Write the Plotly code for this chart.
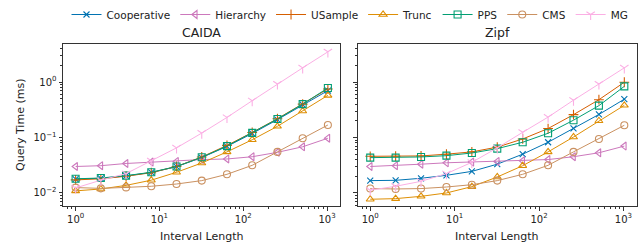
import plotly.graph_objects as go

interval = [1, 2, 4, 8, 16, 32, 64, 128, 256, 512, 1024]
series_names = ["Cooperative", "Hierarchy", "USample", "Trunc", "PPS", "CMS", "MG"]

caida_cooperative = [0.0178, 0.0184, 0.0203, 0.0234, 0.0298, 0.0435, 0.069, 0.118, 0.21, 0.39, 0.70]
caida_hierarchy = [0.030, 0.031, 0.034, 0.036, 0.037, 0.040, 0.041, 0.045, 0.054, 0.068, 0.097]
caida_usample = [0.0172, 0.0180, 0.0200, 0.0232, 0.0300, 0.0445, 0.072, 0.123, 0.218, 0.40, 0.75]
caida_trunc = [0.0109, 0.0118, 0.0137, 0.0170, 0.0236, 0.0347, 0.055, 0.091, 0.159, 0.30, 0.575]
caida_pps = [0.0180, 0.0186, 0.0205, 0.0236, 0.0300, 0.0440, 0.070, 0.121, 0.215, 0.40, 0.78]
caida_cms = [0.0125, 0.0121, 0.0126, 0.0132, 0.0145, 0.0167, 0.0217, 0.0315, 0.055, 0.097, 0.168]
caida_mg = [0.0123, 0.017, 0.0223, 0.038, 0.065, 0.12, 0.23, 0.46, 0.92, 1.8, 3.5]

zipf_cooperative = [0.0167, 0.0169, 0.0184, 0.0208, 0.0245, 0.033, 0.050, 0.082, 0.146, 0.26, 0.49]
zipf_hierarchy = [0.030, 0.031, 0.033, 0.035, 0.036, 0.037, 0.038, 0.040, 0.045, 0.053, 0.070]
zipf_usample = [0.0458, 0.046, 0.0465, 0.050, 0.055, 0.067, 0.094, 0.145, 0.258, 0.48, 0.99]
zipf_trunc = [0.0077, 0.0079, 0.0087, 0.010, 0.013, 0.0194, 0.031, 0.055, 0.102, 0.20, 0.38]
zipf_pps = [0.0433, 0.0433, 0.0446, 0.047, 0.0525, 0.063, 0.082, 0.119, 0.205, 0.375, 0.835]
zipf_cms = [0.012, 0.0118, 0.012, 0.0128, 0.0141, 0.0167, 0.0217, 0.0315, 0.055, 0.094, 0.166]
zipf_mg = [0.0112, 0.0132, 0.0162, 0.0223, 0.0357, 0.065, 0.124, 0.233, 0.47, 0.92, 1.8]

x_tickvals = [1, 10, 100, 1000]
x_ticktext = ["10<sup>0</sup>", "10<sup>1</sup>", "10<sup>2</sup>", "10<sup>3</sup>"]
y_tickvals = [0.01, 0.1, 1]
y_ticktext = ["10<sup>\u22122</sup>", "10<sup>\u22121</sup>", "10<sup>0</sup>"]

caida = [caida_cooperative, caida_hierarchy, caida_usample, caida_trunc, caida_pps, caida_cms, caida_mg]
zipf = [zipf_cooperative, zipf_hierarchy, zipf_usample, zipf_trunc, zipf_pps, zipf_cms, zipf_mg]

colors = ["#0173b2", "#cc78bc", "#d55e00", "#de8f05", "#029e73", "#ca9161", "#fbafe4"]
symbols = ["x-thin", "triangle-left-open", "cross-thin", "triangle-up-open", "square-open", "circle-open", "y-down"]
sizes = [6, 7, 7, 7, 7, 7, 7]

fig = go.Figure()
for panel, data in enumerate([caida, zipf]):
    xa = "x" if panel == 0 else "x2"
    for i, name in enumerate(series_names):
        fig.add_trace(go.Scatter(
            x=interval, y=data[i], name=name, mode="lines+markers",
            xaxis=xa, yaxis="y" if panel == 0 else "y2",
            legendgroup=name, showlegend=(panel == 0),
            line=dict(color=colors[i], width=1),
            marker=dict(symbol=symbols[i], size=sizes[i], color=colors[i],
                        line=dict(color=colors[i], width=1.1)),
        ))

tickfont = dict(family="DejaVu Sans", size=10, color="#222222")
axis_common = dict(
    type="log", showgrid=False, zeroline=False, showline=True, mirror=True,
    linecolor="#333333", linewidth=1, ticks="outside", ticklen=3.5, tickcolor="#333333",
    tickfont=tickfont,
    minor=dict(ticks="outside", ticklen=2, tickcolor="#333333", dtick="D1", showgrid=False),
)
xr = [-0.1505, 3.1605]
yr = [-2.235, 0.685]
label_font = dict(family="DejaVu Sans", size=11, color="#222222")
fig.update_layout(
    width=642, height=246,
    margin=dict(l=63, r=5, t=44, b=40),
    paper_bgcolor="white", plot_bgcolor="white",
    font=dict(family="DejaVu Sans", size=10, color="#222222"),
    showlegend=True,
    legend=dict(orientation="h", x=0.5, xanchor="center", y=1.0, yref="container",
                yanchor="top", font=dict(size=10.5), itemwidth=30, tracegroupgap=0,
                bgcolor="rgba(0,0,0,0)"),
    xaxis=dict(axis_common, domain=[0, 0.4834], range=xr, anchor="y",
               tickvals=x_tickvals, ticktext=x_ticktext),
    xaxis2=dict(axis_common, domain=[0.5131, 1], range=xr, anchor="y2",
                tickvals=x_tickvals, ticktext=x_ticktext),
    yaxis=dict(axis_common, range=yr, anchor="x",
               tickvals=y_tickvals, ticktext=y_ticktext),
    yaxis2=dict(axis_common, range=yr, anchor="x2", showticklabels=False,
                tickvals=y_tickvals),
    annotations=[
        dict(text="CAIDA", x=0.2417, y=1.0, xref="paper", yref="paper", showarrow=False,
             xanchor="center", yanchor="bottom", yshift=2, font=dict(size=12.5, color="#222222")),
        dict(text="Zipf", x=0.7565, y=1.0, xref="paper", yref="paper", showarrow=False,
             xanchor="center", yanchor="bottom", yshift=2, font=dict(size=12.5, color="#222222")),
        dict(text="Interval Length", x=0.2417, y=0, xref="paper", yref="paper", showarrow=False,
             xanchor="center", yanchor="middle", yshift=-30, font=label_font),
        dict(text="Interval Length", x=0.7565, y=0, xref="paper", yref="paper", showarrow=False,
             xanchor="center", yanchor="middle", yshift=-30, font=label_font),
        dict(text="Query Time (ms)", x=-0.075, y=0.5, xref="paper", yref="paper", showarrow=False,
             xanchor="center", yanchor="middle", textangle=-90, font=label_font),
    ],
)
fig.write_html("out.html", config={"displayModeBar": False})

with open("out.html", "r", encoding="utf-8") as f:
    html = f.read()
html = html.replace("<head>", "<head><style>html,body{margin:0;padding:0;}</style>", 1)
with open("out.html", "w", encoding="utf-8") as f:
    f.write(html)
